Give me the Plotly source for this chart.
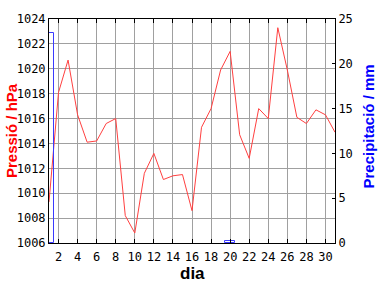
import plotly.graph_objects as go

# Pressure (hPa), sampled at day boundaries 1..31
press_days = list(range(1, 32))
pressure = [1009.3, 1018.1, 1020.7, 1016.3, 1014.1, 1014.2, 1015.6, 1016.0,
            1008.2, 1006.8, 1011.6, 1013.2, 1011.1, 1011.4, 1011.5, 1008.6,
            1015.3, 1016.8, 1019.9, 1021.4, 1014.7, 1012.8, 1016.8, 1016.0,
            1023.3, 1019.9, 1016.1, 1015.6, 1016.7, 1016.3, 1014.9]

# Daily precipitation (mm)
precip_days = list(range(1, 31))
precip = [23.4, 0, 0, 0, 0, 0, 0, 0, 0, 0, 0, 0, 0, 0, 0, 0, 0, 0, 0, 0.25,
          0, 0, 0, 0, 0, 0, 0, 0, 0, 0]

x_ticks = list(range(2, 31, 2))
p_ticks = list(range(1006, 1025, 2))
r_ticks = list(range(0, 26, 5))

tick_font = dict(family="DejaVu Sans Mono", size=12, color="black")

# only days with rain get an outlined bar
rain_x = [d for d, v in zip(precip_days, precip) if v > 0]
rain_y = [v for v in precip if v > 0]

fig = go.Figure()
fig.add_trace(go.Bar(
    x=rain_x, y=rain_y, width=1, yaxis="y2",
    marker=dict(color="rgba(0,0,0,0)", line=dict(color="#3a3aff", width=1)),
    showlegend=False, hoverinfo="skip"))
fig.add_trace(go.Scatter(
    x=press_days, y=pressure, mode="lines",
    line=dict(color="#ff4040", width=1), showlegend=False))

fig.update_layout(
    width=384, height=288,
    margin=dict(l=49, r=49, t=15, b=45),
    paper_bgcolor="white", plot_bgcolor="white",
    bargap=0,
    xaxis=dict(range=[1, 31], tickvals=x_ticks, ticktext=[str(v) for v in x_ticks],
               ticks="inside", ticklen=4, tickcolor="black", mirror="ticks",
               showline=True, linecolor="black", linewidth=1,
               showgrid=True, gridcolor="#a0a0a0", gridwidth=1, zeroline=False,
               tickfont=tick_font, ticklabelstandoff=3, layer="above traces"),
    yaxis=dict(range=[1006, 1024], tickvals=p_ticks, ticktext=[str(v) for v in p_ticks],
               ticks="", showline=True, linecolor="black", linewidth=1,
               showgrid=True, gridcolor="#a0a0a0", gridwidth=1, zeroline=False,
               tickfont=tick_font, layer="above traces"),
    yaxis2=dict(range=[0, 25], tickvals=r_ticks, ticktext=[str(v) for v in r_ticks],
                overlaying="y", side="right",
                ticks="inside", ticklen=3, tickcolor="black",
                showline=True, linecolor="black", linewidth=1,
                showgrid=False, zeroline=False, tickfont=tick_font,
                layer="above traces"),
    annotations=[
        dict(text="<b>dia</b>", xref="paper", yref="paper", x=0.5, y=0, yshift=-30,
             xanchor="center", yanchor="middle", showarrow=False,
             font=dict(family="Liberation Sans", size=17, color="black")),
        dict(text="<b>Pressió / hPa</b>", xref="paper", yref="paper", x=0, xshift=-38,
             y=0.5, textangle=-90, xanchor="center", yanchor="middle", showarrow=False,
             font=dict(family="Liberation Sans", size=15, color="#ff0000")),
        dict(text="<b>Precipitació / mm</b>", xref="paper", yref="paper", x=1, xshift=34,
             y=0.52, textangle=-90, xanchor="center", yanchor="middle", showarrow=False,
             font=dict(family="Liberation Sans", size=15, color="#0000ff")),
    ],
)

fig.write_html("out.html")
